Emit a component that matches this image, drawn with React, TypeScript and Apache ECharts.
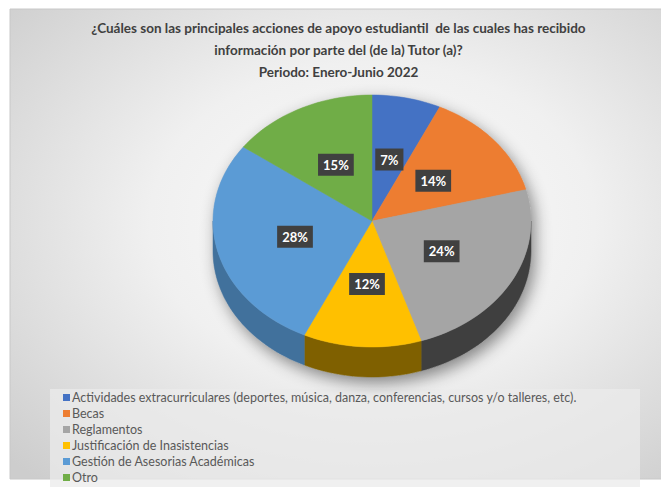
import React, { useEffect, useRef } from "react";
import * as echarts from "echarts";

const titleLines = [
  "¿Cuáles son las principales acciones de apoyo estudiantil  de las cuales has recibido",
  "información por parte del (de la) Tutor (a)?",
  "Periodo: Enero-Junio 2022",
];
const categories = [
  "Actividades extracurriculares (deportes, música, danza, conferencias, cursos y/o talleres, etc).",
  "Becas",
  "Reglamentos",
  "Justificación de Inasistencias",
  "Gestión de Asesorias Académicas",
  "Otro",
];
const values = [7, 14, 24, 12, 28, 15];
const topColors = ["#4472c4", "#ed7d31", "#a5a5a5", "#ffc000", "#5b9bd5", "#70ad47"];
const sideColors = ["#2f5597", "#ae5a21", "#3f3f3f", "#7f6000", "#41719c", "#507e32"];

const FONT = "Lato, 'Open Sans', sans-serif";

export default function App() {
  const ref = useRef<HTMLDivElement>(null);
  useEffect(() => {
    if (!ref.current) return;
    const chart = echarts.init(ref.current, null, { renderer: "svg" });
    const total = values.reduce((a, b) => a + b, 0);
    const cum: number[] = [];
    let acc = 0;
    values.forEach((v) => {
      cum.push(acc);
      acc += v;
    });

    const cx = 364, cy = 213, rx = 159, ry = 126, depth = 30;
    const pt = (a: number, dy = 0) => [cx + rx * Math.sin(a), cy - ry * Math.cos(a) + dy];
    const arc = (a0: number, a1: number, dy = 0) => {
      const pts: number[][] = [];
      const n = Math.max(2, Math.ceil(((a1 - a0) / (Math.PI * 2)) * 180));
      for (let i = 0; i <= n; i++) pts.push(pt(a0 + ((a1 - a0) * i) / n, dy));
      return pts;
    };

    const series = categories.map((name, i) => ({
      type: "custom",
      name,
      coordinateSystem: "none",
      silent: true,
      itemStyle: { color: topColors[i] },
      data: [[cum[i], values[i]]],
      renderItem: (params: any, api: any) => {
        const start = api.value(0);
        const val = api.value(1);
        const a0 = (start / total) * Math.PI * 2;
        const a1 = ((start + val) / total) * Math.PI * 2;
        const children: any[] = [];
        if (i === 0) {
          const outline = arc(-Math.PI / 2, Math.PI / 2).concat(arc(Math.PI / 2, (Math.PI * 3) / 2, depth));
          children.push({
            type: "polygon",
            z2: -5,
            shape: { points: outline },
            style: {
              fill: "#bbbbbb",
              shadowBlur: 16,
              shadowColor: "rgba(0,0,0,0.45)",
              shadowOffsetX: 4,
              shadowOffsetY: 6,
            },
          });
        }
        const s = Math.max(a0, Math.PI / 2);
        const e = Math.min(a1, (Math.PI * 3) / 2);
        if (s < e) {
          const pts = arc(s, e).concat(arc(s, e, depth).reverse());
          children.push({
            type: "polygon",
            z2: 0,
            shape: { points: pts },
            style: { fill: sideColors[i], stroke: sideColors[i], lineWidth: 0.5 },
          });
        }
        const top = [[cx, cy]].concat(arc(a0, a1));
        children.push({
          type: "polygon",
          z2: 10,
          shape: { points: top },
          style: { fill: topColors[i], stroke: topColors[i], lineWidth: 0.5 },
        });
        const mid = (a0 + a1) / 2;
        const lp = [cx + 0.5 * rx * Math.sin(mid), cy - 0.5 * ry * Math.cos(mid)];
        children.push({
          type: "text",
          z2: 20,
          x: lp[0],
          y: lp[1],
          style: {
            text: Math.round((val / total) * 100) + "%",
            fill: "#ffffff",
            fontSize: 13,
            fontWeight: "bold",
            fontFamily: FONT,
            align: "center",
            verticalAlign: "middle",
            backgroundColor: "#404040",
            padding: [5, 5, 4, 5],
            boxShadowBlur: 4,
            boxShadowColor: "rgba(0,0,0,0.45)",
            boxShadowOffsetX: 2,
            boxShadowOffsetY: 2,
          },
        });
        return { type: "group", children };
      },
    }));

    chart.setOption({
      animation: false,
      graphic: [
        {
          type: "rect",
          z: -10,
          shape: { x: 2, y: 1, width: 659, height: 470 },
          style: {
            fill: new echarts.graphic.RadialGradient(0.55, 0.45, 0.75, [
              { offset: 0, color: "#fbfbfb" },
              { offset: 0.45, color: "#f0f0f0" },
              { offset: 1, color: "#cdcdcd" },
            ]),
            stroke: "#c8c8c8",
            lineWidth: 1,
          },
        },
        {
          type: "rect",
          z: -9,
          shape: { x: 42, y: 381, width: 590, height: 98 },
          style: { fill: "rgba(235,235,235,0.75)" },
        },
      ],
      title: {
        text: titleLines.join("\n"),
        left: "center",
        top: 4,
        textStyle: {
          fontFamily: FONT,
          fontSize: 13.5,
          fontWeight: "bold",
          color: "#404040",
          lineHeight: 22,
        },
      },
      legend: {
        orient: "vertical",
        left: 55,
        top: 383,
        height: 140,
        padding: 0,
        icon: "rect",
        itemWidth: 7,
        itemHeight: 7,
        itemGap: 3,
        textStyle: {
          fontFamily: FONT,
          fontSize: 12.5,
          lineHeight: 12,
          color: "#595959",
          padding: [0, 0, 0, -3],
        },
        data: categories,
      },
      series,
    });
    return () => chart.dispose();
  }, []);
  return <div ref={ref} style={{ width: 661, height: 479 }} />;
}
